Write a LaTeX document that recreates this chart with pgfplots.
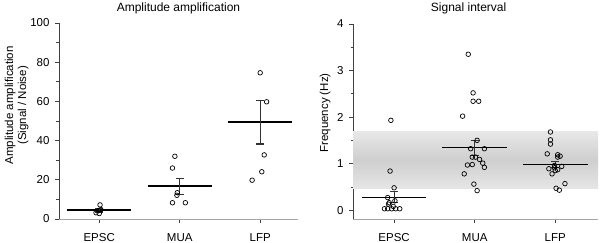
\documentclass[border=0pt]{standalone}
\usepackage{pgfplots}
\pgfplotsset{compat=1.18}
\usepackage{fontspec}
\setmainfont{Liberation Sans}
\begin{document}
\begin{tikzpicture}
\path[use as bounding box] (0,0) rectangle (600bp,243bp);
\pgfplotsset{
  myax/.style={
    scale only axis,
    anchor=south west,
    axis x line*=bottom, axis y line*=left,
    x axis line style={-, draw=black!35, line width=0.8bp},
    y axis line style={-, draw=black!75, line width=0.8bp},
    tick align=outside,
    major tick length=4bp, minor tick length=2.5bp,
    tick style={draw=black!75, line width=0.7bp},
    xtick={1,2,3}, xticklabels={EPSC,MUA,LFP},
    minor y tick num=1,
    xminorticks=false,
    /pgf/number format/assume math mode=true,
    ticklabel style={font=\fontsize{11.5bp}{13bp}\selectfont},
    xticklabel style={yshift=-7bp},
    yticklabel style={xshift=-2bp},
    label style={font=\fontsize{11.5bp}{13bp}\selectfont},
    clip=false,
  },
  pts/.style={only marks, mark=o, mark size=2.3bp, mark options={line width=0.7bp, draw=black}},
}
% ---------------- left axis ----------------
\begin{axis}[myax, at={(59bp,24bp)}, width=239bp, height=196bp,
  xmin=0.5, xmax=3.47, ymin=0, ymax=100,
  ytick={0,20,40,60,80,100},
  title={Amplitude amplification},
  every axis title/.style={at={(axis description cs:0.5,1.074)}, anchor=center, font=\fontsize{12bp}{14bp}\selectfont},
  ylabel={\begin{tabular}{c}Amplitude amplification\\(Signal / Noise)\end{tabular}},
  ylabel style={at={(axis description cs:-0.176,0.58)}, anchor=center},
]
% EPSC
\addplot[pts] coordinates {(1.01,7.2) (0.96,3.2) (0.99,4.3) (1.02,4.8) (1.00,2.8)};
% MUA
\addplot[pts] coordinates {(1.94,32.0) (1.91,26.0) (1.97,13.4) (1.965,12.1) (1.91,8.3) (2.07,8.3)};
% LFP
\addplot[pts] coordinates {(3.00,74.6) (3.08,59.8) (3.05,32.7) (3.02,24.1) (2.90,19.8)};
% means
\addplot[black, line width=1.7bp] coordinates {(0.6,4.5) (1.4,4.5)};
\addplot[black, line width=1.7bp] coordinates {(1.6,16.7) (2.4,16.7)};
\addplot[black, line width=1.7bp] coordinates {(2.6,49.6) (3.4,49.6)};
% error bars
\addplot[black!80, line width=1.3bp] coordinates {(1,3.6) (1,5.4)};
\addplot[black!80, line width=1.3bp] coordinates {(0.95,5.4) (1.05,5.4)};
\addplot[black!80, line width=1.3bp] coordinates {(0.95,3.6) (1.05,3.6)};
\addplot[black!80, line width=1.3bp] coordinates {(2,12.6) (2,20.8)};
\addplot[black!80, line width=1.3bp] coordinates {(1.95,20.8) (2.05,20.8)};
\addplot[black!80, line width=1.3bp] coordinates {(1.95,12.6) (2.05,12.6)};
\addplot[black!80, line width=1.3bp] coordinates {(3,38.2) (3,60.6)};
\addplot[black!80, line width=1.3bp] coordinates {(2.95,60.6) (3.05,60.6)};
\addplot[black!80, line width=1.3bp] coordinates {(2.95,38.2) (3.05,38.2)};
\end{axis}
% ---------------- right axis ----------------
\begin{axis}[myax, at={(353bp,24bp)}, width=245bp, height=195bp,
  xmin=0.49, xmax=3.53, ymin=-0.19, ymax=4,
  ytick={0,1,2,3,4},
  title={Signal interval},
  every axis title/.style={at={(axis description cs:0.472,1.079)}, anchor=center, font=\fontsize{12bp}{14bp}\selectfont},
  ylabel={Frequency (Hz)},
  ylabel style={at={(axis description cs:-0.114,0.544)}, anchor=center},
]
% shaded band
\addplot[draw=none, top color=black!9, bottom color=black!10, middle color=black!19]
  coordinates {(0.49,0.47) (3.53,0.47) (3.53,1.70) (0.49,1.70)} -- cycle;
% EPSC
\addplot[pts] coordinates {(0.96,1.93) (0.95,0.84) (1.00,0.48) (0.92,0.27) (1.01,0.20) (0.94,0.16) (0.93,0.13) (0.99,0.08)
  (0.88,0.03) (0.92,0.03) (0.97,0.03) (1.02,0.03) (1.07,0.03)};
% MUA
\addplot[pts] coordinates {(1.92,3.35) (1.98,2.52) (1.98,2.34) (2.05,2.34) (1.85,2.02) (2.03,1.50) (1.95,1.32) (2.12,1.32)
  (1.97,1.14) (2.01,1.14) (2.06,1.09) (2.10,1.01) (1.91,0.97) (1.97,0.98) (2.12,0.92) (1.87,0.78) (1.99,0.56) (2.03,0.42)};
% LFP
\addplot[pts] coordinates {(2.94,1.68) (2.94,1.51) (2.94,1.42) (2.90,1.21) (3.03,1.19) (3.06,1.16) (3.03,1.14) (2.99,0.96)
  (3.08,0.94) (2.92,0.89) (2.99,0.91) (3.03,0.87) (3.00,0.85) (2.96,0.78) (3.01,0.47) (3.05,0.43) (3.12,0.57)};
% means
\addplot[black, line width=1.2bp] coordinates {(0.6,0.28) (1.4,0.28)};
\addplot[black, line width=1.2bp] coordinates {(1.6,1.34) (2.4,1.34)};
\addplot[black, line width=1.2bp] coordinates {(2.6,0.98) (3.4,0.98)};
% error bars
\addplot[black!80, line width=1.0bp] coordinates {(1,0.16) (1,0.40)};
\addplot[black!80, line width=1.0bp] coordinates {(0.95,0.40) (1.05,0.40)};
\addplot[black!80, line width=1.0bp] coordinates {(0.95,0.16) (1.05,0.16)};
\addplot[black!80, line width=1.0bp] coordinates {(2,1.18) (2,1.50)};
\addplot[black!80, line width=1.0bp] coordinates {(1.95,1.50) (2.05,1.50)};
\addplot[black!80, line width=1.0bp] coordinates {(1.95,1.18) (2.05,1.18)};
\addplot[black!80, line width=1.0bp] coordinates {(3,0.92) (3,1.04)};
\addplot[black!80, line width=1.0bp] coordinates {(2.95,1.04) (3.05,1.04)};
\addplot[black!80, line width=1.0bp] coordinates {(2.95,0.92) (3.05,0.92)};
\end{axis}
\end{tikzpicture}
\end{document}
